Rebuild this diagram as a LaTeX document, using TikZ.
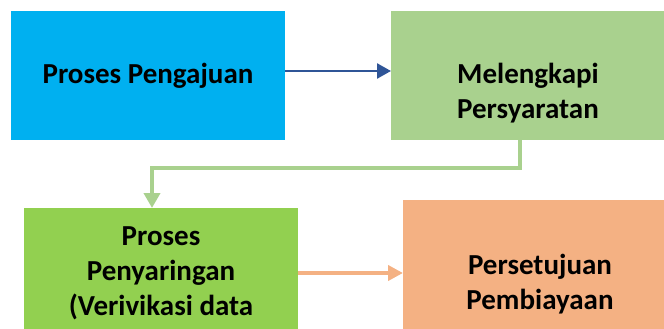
\documentclass[tikz,border=0pt]{standalone}
\usepackage{fontspec}
\setmainfont{Carlito}
\usetikzlibrary{arrows.meta}
\definecolor{cblue}{HTML}{00B0F0}
\definecolor{clgreen}{HTML}{A9D18E}
\definecolor{cgreen}{HTML}{92D050}
\definecolor{corange}{HTML}{F4B183}
\definecolor{carrow}{HTML}{2F5597}
\tikzset{
  boxnode/.style={draw=none, inner sep=0pt, outer sep=0pt},
  txt/.style={font=\fontsize{29}{35}\selectfont\bfseries, align=center, inner sep=0pt},
  bluearrow/.style={draw=carrow, line width=2.5pt, -{Triangle[length=14pt,width=15pt]}},
  greenarrow/.style={draw=clgreen, line width=4pt, -{Triangle[length=15pt,width=16pt]}},
  orangearrow/.style={draw=corange, line width=4pt, -{Triangle[length=15pt,width=15pt]}}
}
\begin{document}
\begin{tikzpicture}[x=1pt,y=-1pt]
\useasboundingbox (0,0) rectangle (664,329);
\clip (0,0) rectangle (664,329);
\node[boxnode, fill=cblue, minimum width=274pt, minimum height=129pt] (b1) at (148,75.5) {};
\node[boxnode, fill=clgreen, minimum width=276pt, minimum height=129pt] (b2) at (529,75.5) {};
\node[boxnode, fill=cgreen, minimum width=274pt, minimum height=130pt] (b3) at (161,273) {};
\node[boxnode, fill=corange, minimum width=267pt, minimum height=170pt] (b4) at (536.5,285) {};
\node[txt] (t1) at (148,76) {Proses Pengajuan};
\node[txt] (t2) at (528,93) {Melengkapi\\Persyaratan};
\node[txt] (t3) at (161,273) {Proses\\Penyaringan\\(Verivikasi data};
\node[txt] (t4) at (540,284) {Persetujuan\\Pembiayaan};
\draw[bluearrow] (b1.east |- 0,71) -- (b2.west |- 0,71);
\coordinate (g1) at (520,168);
\coordinate (g2) at (152,168);
\draw[greenarrow] (b2.south -| g1) -- (g1) -- (g2) -- (b3.north -| g2);
\draw[orangearrow] (b3.east) -- (b3.east -| b4.west);
\end{tikzpicture}
\end{document}
